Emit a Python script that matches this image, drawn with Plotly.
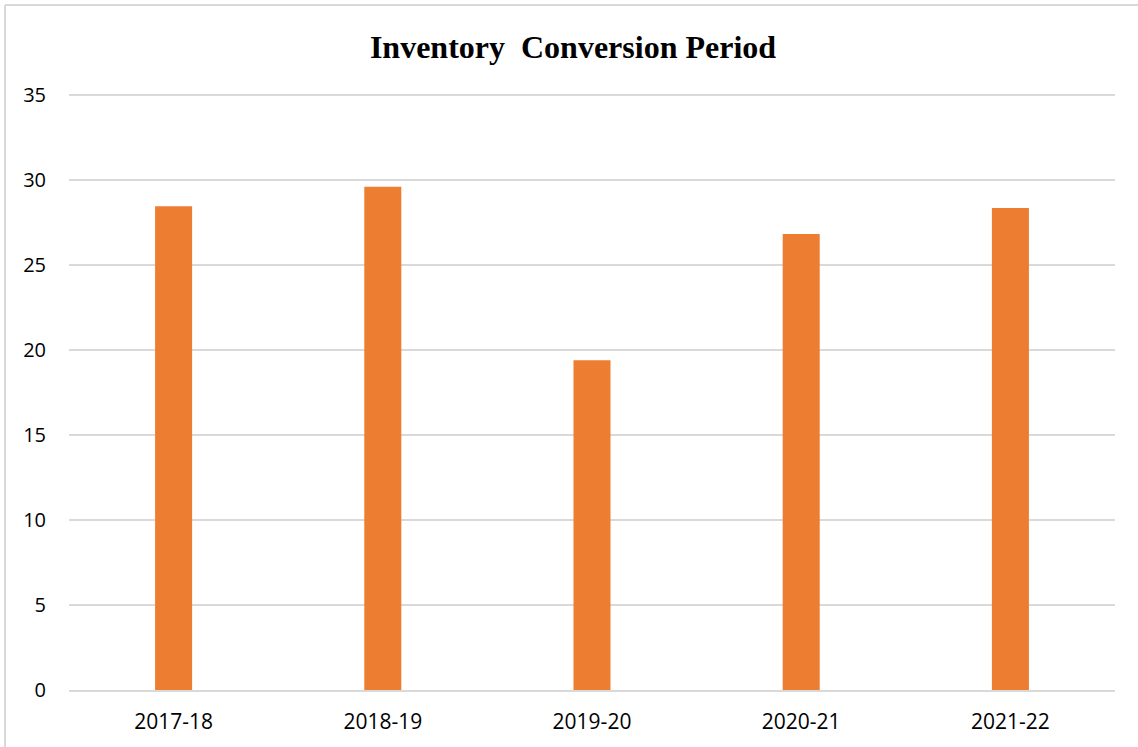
import plotly.graph_objects as go

# Inventory conversion period (days) by financial year
years = ["2017-18", "2018-19", "2019-20", "2020-21", "2021-22"]
icp_days = [28.45, 29.61, 19.40, 26.82, 28.36]

W, H = 1138, 747
L, R, T, B = 69, 23, 94, 57
pw, ph = W - L - R, H - T - B


def px_x(px):
    return (px - L) / pw


def px_y(py):
    return (H - B - py) / ph


fig = go.Figure(
    go.Bar(
        x=years,
        y=icp_days,
        marker=dict(color="#ED7D31", line=dict(width=0)),
        width=0.177,
    )
)

border = "#D9D9D9"
fig.update_layout(
    width=W,
    height=H,
    margin=dict(l=L, r=R, t=T, b=B),
    paper_bgcolor="white",
    plot_bgcolor="white",
    showlegend=False,
    title=dict(
        text="<b>Inventory\u00a0 Conversion Period</b>",
        font=dict(family="Liberation Serif", size=32, color="black"),
        x=573 / W,
        xanchor="center",
        xref="container",
        y=1 - 47 / H,
        yanchor="middle",
        yref="container",
    ),
    xaxis=dict(
        showgrid=False,
        showline=True,
        linecolor=border,
        linewidth=1.5,
        ticks="",
        tickfont=dict(family="Open Sans", size=21, color="#000000"),
        ticklabelstandoff=12,
    ),
    yaxis=dict(
        range=[0, 35.06],
        tickvals=[0, 5, 10, 15, 20, 25, 30, 35],
        showgrid=True,
        gridcolor=border,
        gridwidth=1.5,
        zeroline=False,
        showline=False,
        ticks="",
        tickfont=dict(family="Open Sans", size=20, color="#000000"),
        ticklabelstandoff=22,
    ),
    shapes=[
        dict(type="line", xref="paper", yref="paper",
             x0=px_x(5), x1=px_x(W + 2), y0=px_y(5), y1=px_y(5),
             line=dict(color=border, width=2)),
        dict(type="line", xref="paper", yref="paper",
             x0=px_x(5), x1=px_x(5), y0=px_y(5), y1=px_y(H + 2),
             line=dict(color=border, width=2)),
    ],
)

fig.write_html("out.html")
